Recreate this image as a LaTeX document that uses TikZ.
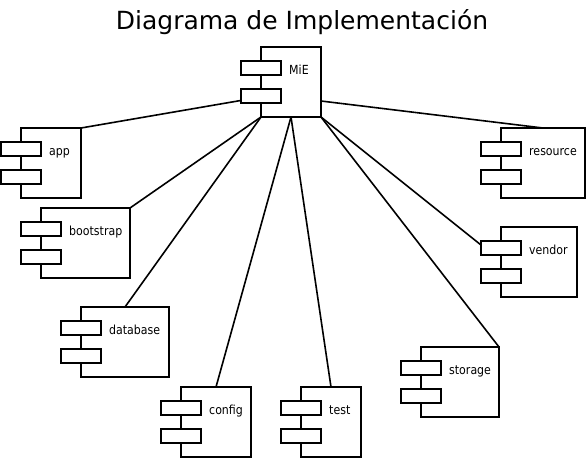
\documentclass[tikz,border=0pt]{standalone}
\usepackage{fontspec}
\setmainfont{DejaVu Sans}
\newfontfamily\lblfont{DejaVu Sans}[FakeStretch=0.88]
\usetikzlibrary{calc}
\pgfdeclarelayer{bg}
\pgfsetlayers{bg,main}
\tikzset{
  body/.style={draw, line width=2pt, minimum height=70pt, inner sep=0pt, outer sep=0pt, anchor=north west},
  tabbox/.style={draw, fill=white, line width=2pt, minimum width=40pt, minimum height=14pt, inner sep=0pt, outer sep=0pt, anchor=north west},
  lbl/.style={font=\lblfont\fontsize{12.5}{14}\selectfont, inner sep=0pt, anchor=base west},
  conn/.style={line width=1.6pt},
  ttl/.style={font=\fontsize{25}{30}\selectfont, inner sep=0pt, anchor=base}
}
\newcommand{\compo}[5]{%
  \node[body, minimum width=#4pt] (#1) at (#2,#3) {};
  \node[tabbox] (#1ta) at ($(#1.north west)+(-20,14)$) {};
  \node[tabbox] (#1tb) at ($(#1.north west)+(-20,42)$) {};
  \node[lbl] (#1l) at ($(#1.north west)+(28,27)$) {#5};
}
\begin{document}
\begin{tikzpicture}[x=1pt,y=-1pt]
\useasboundingbox (0,0) rectangle (586,459);
\node[ttl] (title) at (302,29) {Diagrama de Implementación};
\compo{mie}{261}{47}{60}{MiE}
\compo{app}{21}{128}{60}{app}
\compo{bootstrap}{41}{208}{89}{bootstrap}
\compo{database}{81}{307}{88}{database}
\compo{config}{181}{387}{70}{config}
\compo{test}{301}{387}{60}{test}
\compo{storage}{421}{347}{78}{storage}
\compo{vendor}{501}{227}{76}{vendor}
\compo{resource}{501}{128}{84}{resource}
\begin{pgfonlayer}{bg}
\draw[conn] (app.north east) -- ($(mie.south west)+(0,-20)$);
\draw[conn] (bootstrap.north east) -- (mie.south west);
\draw[conn] (database.north) -- (mie.south west);
\draw[conn] (config.north) -- (mie.south);
\draw[conn] (test.north) -- (mie.south);
\draw[conn] (storage.north east) -- (mie.south east);
\draw[conn] ($(vendorta.west)+(0,-3)$) -- (mie.south east);
\draw[conn] (resource.north) -- ($(mie.south east)+(0,-16)$);
\end{pgfonlayer}
\end{tikzpicture}
\end{document}
